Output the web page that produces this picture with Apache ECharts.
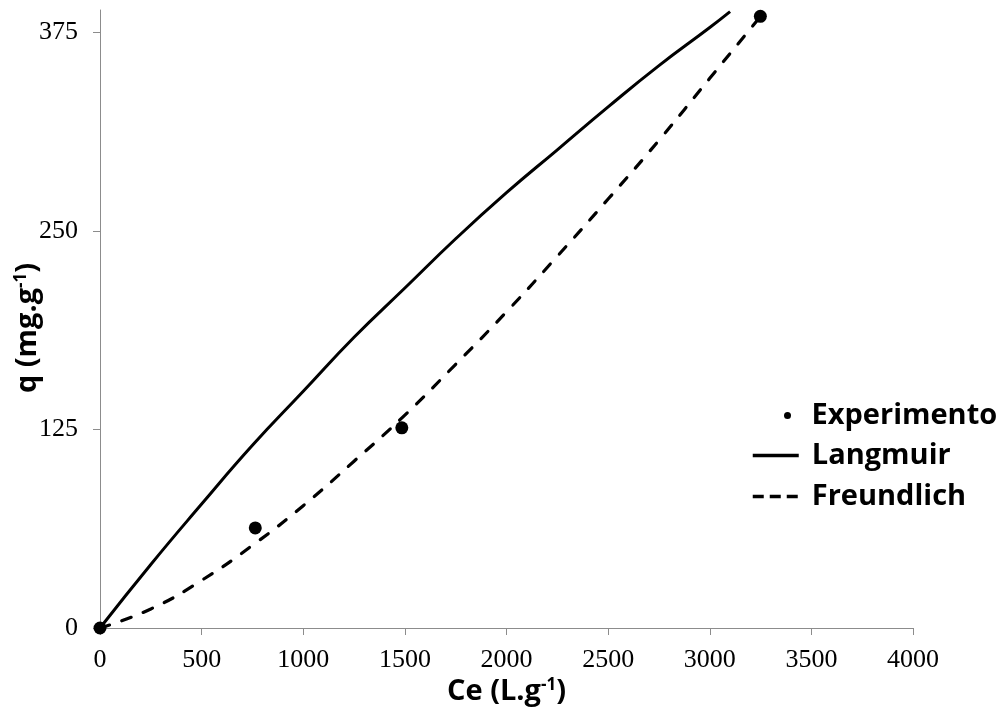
<!DOCTYPE html>
<html lang="pt">
<head>
<meta charset="UTF-8">
<title>Isotermas de adsorção</title>
<script src="https://cdn.jsdelivr.net/npm/echarts@6/dist/echarts.min.js"></script>
<style>
  html, body { margin: 0; padding: 0; background: #fff; }
  #chart { width: 1005px; height: 720px; }
</style>
</head>
<body>
<div id="chart"></div>
<script>
  // pontos experimentais
  const expCe = [0, 764, 1485, 3249];
  const expQ = [0, 63, 126, 385];

  // curva de Langmuir
  const langCe = [0, 250, 500, 750, 1000, 1250, 1500, 1750, 2000, 2250, 2500, 2750, 3000, 3100];
  const langQ = [0, 40, 78, 115, 149, 183, 214, 245, 274, 301, 328, 354, 378, 388];

  // curva de Freundlich
  const freCe = [0, 250, 500, 750, 1000, 1250, 1500, 1750, 2000, 2250, 2500, 2750, 3000, 3250];
  const freQ = [0, 12, 30, 52, 77, 105, 134, 166, 199, 234, 270, 307, 346, 385];

  const yTicks = [0, 125, 250, 375];

  const pairs = (xs, ys) => xs.map((x, i) => [x, ys[i]]);

  const nameFont = 'Open Sans';
  const tickFont = 'Liberation Serif';
  const axisGray = '#8c8c8c';
  const hiddenDot = { color: 'rgba(0,0,0,0)', borderColor: 'rgba(0,0,0,0)' };

  const chart = echarts.init(document.getElementById('chart'));

  chart.setOption({
    animation: false,
    backgroundColor: '#fff',
    grid: { left: 100, right: 92, top: 10, bottom: 92, containLabel: false, outerBoundsMode: 'none' },
    xAxis: {
      type: 'value',
      min: 0,
      max: 4000,
      interval: 500,
      name: '{b|Ce (L.g}{s|-1}{b|)}',
      nameLocation: 'middle',
      nameGap: 49,
      nameMoveOverlap: false,
      nameTextStyle: {
        rich: {
          b: { fontFamily: nameFont, fontWeight: 'bold', fontSize: 29, color: '#000' },
          s: { fontFamily: nameFont, fontWeight: 'bold', fontSize: 17, color: '#000', verticalAlign: 'top' }
        }
      },
      axisLine: { lineStyle: { color: axisGray, width: 1 } },
      axisTick: { show: true, inside: false, length: 7, lineStyle: { color: axisGray } },
      axisLabel: {
        fontFamily: tickFont, fontSize: 26, color: '#000', margin: 19,
        formatter: (v) => String(v)
      },
      splitLine: { show: false }
    },
    yAxis: {
      type: 'value',
      min: 0,
      max: 389,
      name: '{b|q (mg.g}{s|-1}{b|)}',
      nameLocation: 'middle',
      nameGap: 58,
      nameRotate: 90,
      nameMoveOverlap: false,
      nameTextStyle: {
        padding: [0, 18, 0, 0],
        rich: {
          b: { fontFamily: nameFont, fontWeight: 'bold', fontSize: 29, color: '#000' },
          s: { fontFamily: nameFont, fontWeight: 'bold', fontSize: 17, color: '#000', verticalAlign: 'top' }
        }
      },
      axisLine: { show: true, lineStyle: { color: axisGray, width: 1 } },
      axisTick: { show: true, length: 7, customValues: yTicks, lineStyle: { color: axisGray } },
      axisLabel: {
        fontFamily: tickFont, fontSize: 26, color: '#000', margin: 22, customValues: yTicks,
        formatter: (v) => String(v)
      },
      splitLine: { show: false }
    },
    legend: [
      {
        data: ['Experimento'],
        left: 779,
        top: 396,
        itemWidth: 38,
        itemHeight: 7,
        textStyle: { fontFamily: nameFont, fontWeight: 'bold', fontSize: 29, color: '#000' }
      },
      {
        data: [
          { name: 'Langmuir', itemStyle: hiddenDot,
            lineStyle: { color: '#000', width: 3.5, type: 'solid', cap: 'butt' } },
          { name: 'Freundlich', itemStyle: hiddenDot,
            lineStyle: { color: '#000', width: 3.5, type: [11, 6], cap: 'butt' } }
        ],
        orient: 'vertical',
        left: 746,
        top: 436,
        itemGap: 12,
        itemWidth: 46,
        itemHeight: 14,
        textStyle: { fontFamily: nameFont, fontWeight: 'bold', fontSize: 29, color: '#000', padding: [0, 0, 0, 8] }
      }
    ],
    series: [
      {
        name: 'Langmuir',
        type: 'line',
        data: pairs(langCe, langQ),
        smooth: true,
        symbol: 'none',
        lineStyle: { color: '#000', width: 3 },
        itemStyle: { color: '#000' },
        z: 3
      },
      {
        name: 'Freundlich',
        type: 'line',
        data: pairs(freCe, freQ),
        smooth: true,
        symbol: 'none',
        lineStyle: { color: '#000', width: 3.2, type: [10, 13], cap: 'round' },
        itemStyle: { color: '#000' },
        z: 3
      },
      {
        name: 'Experimento',
        type: 'scatter',
        data: pairs(expCe, expQ),
        symbol: 'circle',
        symbolSize: 13,
        itemStyle: { color: '#000', opacity: 1 },
        clip: false,
        z: 4
      }
    ]
  });
</script>
</body>
</html>
